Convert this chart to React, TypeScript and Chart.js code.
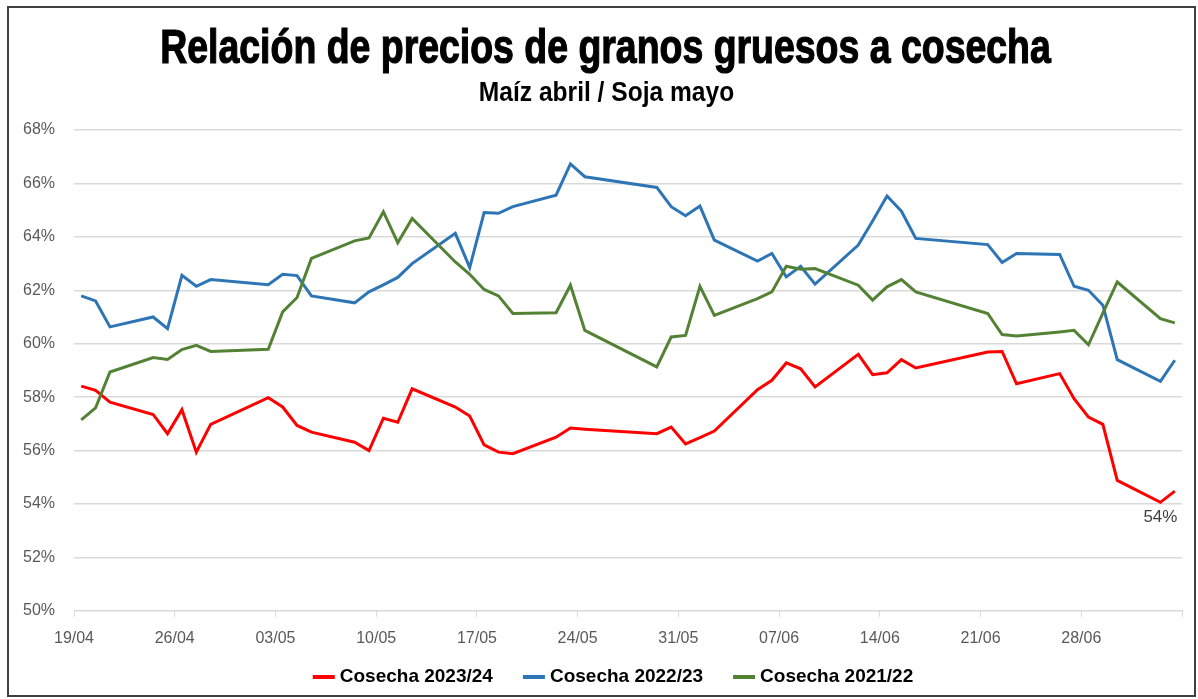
import React, { useEffect, useRef } from "react";
import { Chart, registerables } from "chart.js";

Chart.register(...registerables);

// Trading dates (dd/mm)
const dates = [
  "19/04", "20/04", "21/04", "24/04", "25/04", "26/04", "27/04", "28/04",
  "02/05", "03/05", "04/05", "05/05", "08/05", "09/05", "10/05", "11/05", "12/05",
  "15/05", "16/05", "17/05", "18/05", "19/05", "22/05", "23/05", "24/05",
  "29/05", "30/05", "31/05", "01/06", "02/06", "05/06", "06/06", "07/06", "08/06", "09/06",
  "12/06", "13/06", "14/06", "15/06", "16/06", "21/06", "22/06", "23/06",
  "26/06", "27/06", "28/06", "29/06", "30/06", "03/07", "04/07",
];

const cosecha2324 = [
  58.41, 58.25, 57.81, 57.35, 56.63, 57.53, 55.94, 56.98,
  57.98, 57.63, 56.94, 56.69, 56.31, 56.0, 57.21, 57.06, 58.31,
  57.63, 57.29, 56.21, 55.94, 55.88, 56.5, 56.84, 56.8,
  56.63, 56.88, 56.25, 56.48, 56.73, 58.28, 58.63, 59.28, 59.06, 58.38,
  59.6, 58.84, 58.91, 59.4, 59.09, 59.69, 59.71, 58.5,
  58.88, 57.94, 57.25, 56.98, 54.88, 54.06, 54.48,
];

const cosecha2223 = [
  61.79, 61.6, 60.63, 61.0, 60.56, 62.56, 62.15, 62.4,
  62.21, 62.6, 62.55, 61.79, 61.53, 61.94, 62.2, 62.48, 63.0,
  64.13, 62.85, 64.91, 64.88, 65.13, 65.56, 66.73, 66.25,
  65.85, 65.13, 64.79, 65.15, 63.88, 63.09, 63.38, 62.5, 62.9, 62.23,
  63.69, 64.59, 65.53, 64.96, 63.94, 63.71, 63.04, 63.38,
  63.34, 62.15, 62.0, 61.44, 59.4, 58.59, 59.38,
];

const cosecha2122 = [
  57.15, 57.6, 58.94, 59.48, 59.41, 59.78, 59.94, 59.71,
  59.79, 61.19, 61.73, 63.19, 63.85, 63.96, 64.94, 63.78, 64.69,
  63.06, 62.6, 62.03, 61.79, 61.13, 61.16, 62.19, 60.5,
  59.13, 60.25, 60.31, 62.15, 61.06, 61.69, 61.94, 62.9, 62.79, 62.81,
  62.19, 61.63, 62.13, 62.4, 61.94, 61.13, 60.34, 60.29,
  60.44, 60.5, 59.96, 61.14, 62.31, 60.94, 60.78,
];

const xTickLabels = [
  "19/04", "26/04", "03/05", "10/05", "17/05", "24/05",
  "31/05", "07/06", "14/06", "21/06", "28/06", "",
];

const seriesNames = ["Cosecha 2023/24", "Cosecha 2022/23", "Cosecha 2021/22"];
const seriesColors = ["#FF0000", "#2E75B6", "#548235"];

const titleText = "Relación de precios de granos gruesos a cosecha";
const subtitleText = "Maíz abril / Soja mayo";

const dataLabelDate = "03/07";
const dataLabelText = "54%";

const dayOffset = (s: string) => {
  const [d, m] = s.split("/").map(Number);
  return (Date.UTC(2023, m - 1, d) - Date.UTC(2023, 3, 19)) / 86400000 + 0.5;
};

const toPoints = (vals: number[]) => dates.map((d, i) => ({ x: dayOffset(d), y: vals[i] }));

const FONT = "'Liberation Sans', Arial, sans-serif";

const decorPlugin = {
  id: "decor",
  afterDraw(chart: any) {
    const ctx = chart.ctx;
    const cx = chart.width / 2 + 4;
    // condensed heavy title
    ctx.save();
    ctx.fillStyle = "#000";
    ctx.strokeStyle = "#000";
    ctx.textAlign = "center";
    ctx.textBaseline = "alphabetic";
    ctx.translate(cx, 55);
    ctx.scale(0.78, 1);
    ctx.font = `bold 48px ${FONT}`;
    ctx.lineWidth = 1.2;
    ctx.fillText(titleText, 0, 0);
    ctx.strokeText(titleText, 0, 0);
    ctx.restore();
    // subtitle
    ctx.save();
    ctx.fillStyle = "#000";
    ctx.textAlign = "center";
    ctx.textBaseline = "alphabetic";
    ctx.translate(cx + 1, 93);
    ctx.scale(0.91, 1);
    ctx.font = `bold 27px ${FONT}`;
    ctx.fillText(subtitleText, 0, 0);
    ctx.restore();

    // legend
    ctx.save();
    ctx.font = `bold 19px ${FONT}`;
    ctx.textBaseline = "middle";
    ctx.textAlign = "left";
    const sample = 22;
    const gap = 5;
    const itemGap = 30;
    const ds = chart.data.datasets;
    const widths = ds.map((d: any) => sample + gap + ctx.measureText(d.label).width);
    const total = widths.reduce((a: number, b: number) => a + b, 0) + itemGap * (ds.length - 1);
    let x = 604 - total / 2;
    const y = 669;
    ds.forEach((d: any, i: number) => {
      ctx.fillStyle = d.borderColor;
      ctx.fillRect(x, y - 2, sample, 4);
      ctx.fillStyle = "#000";
      ctx.fillText(d.label, x + sample + gap, y);
      x += widths[i] + itemGap;
    });
    ctx.restore();
  },
  afterDatasetsDraw(chart: any) {
    const meta = chart.getDatasetMeta(0);
    const idx = dates.indexOf(dataLabelDate);
    const pt = meta.data[idx];
    if (!pt) return;
    const ctx = chart.ctx;
    ctx.save();
    ctx.font = `17px ${FONT}`;
    ctx.fillStyle = "#404040";
    ctx.textAlign = "center";
    ctx.textBaseline = "middle";
    ctx.fillText(dataLabelText, pt.x, pt.y + 15);
    ctx.restore();
  },
};

export default function App() {
  const ref = useRef<HTMLCanvasElement | null>(null);

  useEffect(() => {
    if (!ref.current) return;
    const allVals = [cosecha2324, cosecha2223, cosecha2122];
    const chart = new Chart(ref.current, {
      type: "line",
      data: {
        datasets: allVals.map((vals, i) => ({
          label: seriesNames[i],
          data: toPoints(vals),
          borderColor: seriesColors[i],
          backgroundColor: seriesColors[i],
          borderWidth: 3,
          pointRadius: 0,
          tension: 0,
          order: 3 - i,
        })),
      },
      options: {
        animation: false,
        responsive: true,
        maintainAspectRatio: false,
        layout: { padding: { left: 0, right: 7, top: 122, bottom: 35 } },
        plugins: {
          title: { display: false },
          subtitle: { display: false },
          legend: { display: false },
          tooltip: { enabled: false },
        },
        scales: {
          x: {
            type: "linear",
            min: 0,
            max: 77,
            ticks: {
              stepSize: 7,
              autoSkip: false,
              maxRotation: 0,
              padding: 12,
              color: "#595959",
              font: { family: FONT, size: 16 },
              callback: (v: any) => xTickLabels[Math.round(Number(v) / 7)] ?? "",
            },
            grid: { drawOnChartArea: false, drawTicks: true, tickLength: 6, color: "#d9d9d9", lineWidth: 1 },
            border: { color: "#d9d9d9", width: 1 },
          },
          y: {
            min: 50,
            max: 68,
            ticks: {
              stepSize: 2,
              padding: 19,
              color: "#595959",
              font: { family: FONT, size: 16 },
              callback: (v: any) => `${v}%`,
            },
            grid: { color: "#d9d9d9", drawTicks: false, lineWidth: 1.5 },
            border: { display: false },
            afterFit: (s: any) => {
              s.width = 65;
            },
          },
        },
      },
      plugins: [decorPlugin],
    });
    return () => chart.destroy();
  }, []);

  return (
    <div
      style={{
        position: "absolute",
        left: 7,
        top: 6,
        width: 1185,
        height: 687,
        border: "2px solid #404040",
        background: "#fff",
      }}
    >
      <canvas ref={ref} />
    </div>
  );
}
